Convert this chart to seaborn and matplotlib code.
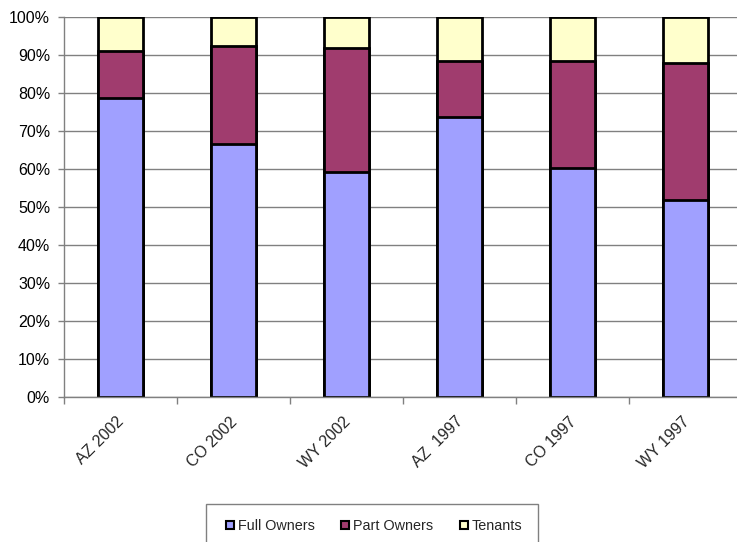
import matplotlib
matplotlib.use("Agg")
import matplotlib.pyplot as plt
from matplotlib.patches import Patch, Rectangle
from matplotlib.ticker import FixedLocator, PercentFormatter
from matplotlib.transforms import ScaledTranslation
import numpy as np
import pandas as pd
import seaborn as sns

# Farm operator tenure shares (percent of farms)
categories = ["AZ 2002", "CO 2002", "WY 2002", "AZ  1997", "CO 1997", "WY 1997"]
full_owners = [78.5, 66.5, 59.0, 73.6, 60.2, 51.8]
part_owners = [12.4, 25.9, 32.8, 14.7, 28.1, 36.1]
tenants = [9.1, 7.6, 8.2, 11.7, 11.7, 12.1]

series_names = ["Full Owners", "Part Owners", "Tenants"]
colors = {"Full Owners": "#A0A0FF", "Part Owners": "#A03C6E", "Tenants": "#FFFFCC"}

df = pd.DataFrame({
    "category": categories,
    "Full Owners": full_owners,
    "Part Owners": part_owners,
    "Tenants": tenants,
})
# cumulative tops for stacking
df["top_full"] = df["Full Owners"]
df["top_part"] = df["Full Owners"] + df["Part Owners"]
df["top_ten"] = df["top_part"] + df["Tenants"]

sns.set_theme(style="white")
plt.rcParams["font.family"] = ["Liberation Sans", "DejaVu Sans"]

fig = plt.figure(figsize=(7.37, 5.42), dpi=100)
ax = fig.add_axes([64 / 737, (542 - 396.7) / 542, 678 / 737, 380 / 542])

# draw from the tallest stack down so each segment shows on top of the next
for col, name in [("top_ten", "Tenants"), ("top_part", "Part Owners"), ("top_full", "Full Owners")]:
    sns.barplot(data=df, x="category", y=col, color=colors[name], saturation=1,
                width=0.4, edgecolor="black", linewidth=2, ax=ax, order=categories)

ax.set_ylim(0, 100)
ax.set_xlim(-0.5, len(categories) - 0.5)
ax.set_xlabel("")
ax.set_ylabel("")
ax.yaxis.set_major_locator(FixedLocator(np.arange(0, 101, 10)))
ax.yaxis.set_major_formatter(PercentFormatter(decimals=0))
ax.grid(axis="y", color="#808080", linewidth=1)
ax.set_axisbelow(True)

for s in ["left", "bottom"]:
    ax.spines[s].set_color("#808080")
    ax.spines[s].set_linewidth(1)
ax.spines["top"].set_visible(False)
ax.spines["right"].set_visible(False)

ax.tick_params(axis="y", which="major", left=True, length=4, width=1, color="#808080",
               labelsize=11.5, pad=6, labelcolor="black")
ax.tick_params(axis="x", which="major", bottom=False, labelsize=11.5, pad=6.5)
ax.xaxis.set_minor_locator(FixedLocator(np.arange(-0.5, len(categories), 1)))
ax.tick_params(axis="x", which="minor", bottom=True, length=5, width=1, color="#808080")
ax.set_xticks(range(len(categories)))
ax.set_xticklabels(categories, rotation=45, ha="right", rotation_mode="anchor")
shift = ScaledTranslation(-4 / 100, 0, fig.dpi_scale_trans)
for lbl in ax.get_xticklabels():
    lbl.set_transform(lbl.get_transform() + shift)

# legend box below the plot
fig.patches.append(Rectangle((206 / 737, -0.05), (538 - 206) / 737, 0.05 + 1 - 504 / 542,
                             transform=fig.transFigure, facecolor="white",
                             edgecolor="#808080", linewidth=1))
handles = [Patch(facecolor=colors[n], edgecolor="black", linewidth=1.5, label=n) for n in series_names]
fig.legend(handles=handles, loc="center", bbox_to_anchor=(374 / 737, 1 - 526 / 542),
           ncol=3, frameon=False, fontsize=10.4,
           handlelength=0.55, handleheight=0.55, handletextpad=0.25, columnspacing=1.85,
           borderpad=0, borderaxespad=0)

fig.savefig("out.png", dpi=100)
